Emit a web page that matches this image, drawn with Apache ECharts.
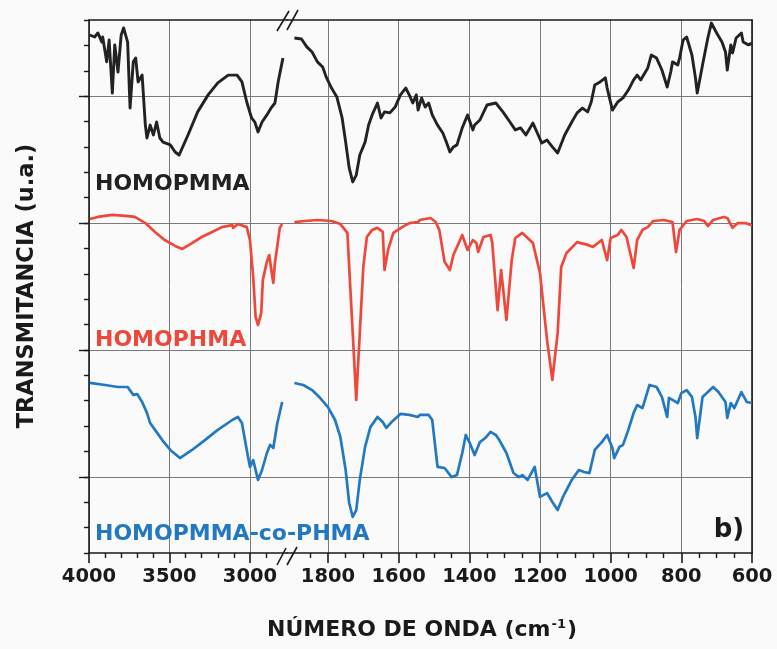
<!DOCTYPE html>
<html>
<head>
<meta charset="utf-8">
<script src="https://cdn.jsdelivr.net/npm/echarts@6/dist/echarts.min.js"></script>
<style>html,body{margin:0;padding:0;background:#fafafa;}#c{width:777px;height:649px;}</style>
</head>
<body>
<div id="c"></div>
<script>
// ---- DATA (wavenumber cm-1, transmittance in arbitrary stacked units) ----
const leftMajor = [3000, 3500, 4000];
const leftMinor = [2900, 3100, 3200, 3300, 3400, 3600, 3700, 3800, 3900];
const rightMajor = [600, 800, 1000, 1200, 1400, 1600, 1800];
const rightMinor = [650, 700, 750, 850, 900, 950, 1050, 1100, 1150, 1250, 1300, 1350, 1450, 1500, 1550, 1650, 1700, 1750, 1850];
const yMajor = [3, 8, 13, 18];

const pmmaLeft = [[3995,20.41],[3965,20.33],[3945,20.49],[3920,20.13],[3915,20.33],[3890,19.35],[3875,20.21],[3855,18.12],[3840,20.02],[3820,18.95],[3800,20.41],[3785,20.69],[3760,20.13],[3745,17.53],[3725,19.35],[3710,19.50],[3695,18.56],[3670,18.83],[3650,16.86],[3640,16.35],[3620,16.86],[3600,16.47],[3580,16.98],[3560,16.35],[3540,16.19],[3495,16.08],[3465,15.80],[3440,15.68],[3385,16.47],[3325,17.38],[3260,18.05],[3200,18.52],[3135,18.83],[3080,18.83],[3050,18.56],[3020,17.77],[2990,17.14],[2970,16.98],[2950,16.59],[2925,16.98],[2895,17.26],[2865,17.57],[2845,17.73],[2825,18.56],[2800,19.35],[2795,19.50]];
const pmmaRight = [[1895,20.29],[1875,20.25],[1860,19.94],[1845,19.74],[1830,19.35],[1815,19.15],[1805,18.75],[1790,18.32],[1775,17.97],[1760,17.14],[1750,16.19],[1740,15.17],[1730,14.62],[1720,14.89],[1710,15.68],[1695,16.19],[1685,16.86],[1675,17.26],[1660,17.73],[1650,17.14],[1640,17.38],[1625,17.34],[1610,17.57],[1595,18.05],[1580,18.32],[1570,18.05],[1560,17.73],[1550,18.05],[1545,17.45],[1535,17.93],[1525,17.57],[1515,17.73],[1505,17.26],[1490,16.86],[1475,16.55],[1465,16.19],[1455,15.80],[1445,16.00],[1435,16.08],[1420,16.75],[1405,17.26],[1390,16.67],[1385,16.86],[1370,17.06],[1350,17.65],[1325,17.73],[1305,17.38],[1285,16.98],[1270,16.67],[1255,16.75],[1240,16.47],[1220,16.94],[1205,16.47],[1195,16.15],[1180,16.27],[1165,16.00],[1150,15.76],[1130,16.47],[1110,16.98],[1095,17.34],[1080,17.53],[1065,17.38],[1055,17.77],[1045,18.44],[1030,18.56],[1015,18.72],[1010,18.32],[995,17.45],[980,17.77],[965,17.93],[950,18.24],[935,18.64],[925,18.83],[915,18.64],[895,19.11],[885,19.62],[870,19.50],[855,19.03],[840,18.36],[830,18.95],[825,19.35],[810,19.23],[805,19.50],[795,20.21],[785,20.33],[770,19.62],[760,18.72],[755,18.12],[740,19.23],[725,20.29],[715,20.88],[700,20.49],[685,20.13],[675,19.74],[670,19.03],[660,20.02],[655,19.70],[645,20.29],[630,20.49],[625,20.13],[610,20.02],[600,20.09]];

const phmaLeft = [[3995,13.16],[3945,13.24],[3855,13.32],[3775,13.28],[3715,13.24],[3650,13.00],[3590,12.65],[3530,12.33],[3465,12.10],[3420,11.98],[3360,12.21],[3300,12.45],[3235,12.65],[3175,12.84],[3110,12.92],[3105,12.81],[3075,12.96],[3020,12.84],[3000,12.33],[2980,10.87],[2965,9.30],[2950,8.98],[2930,9.46],[2920,10.76],[2895,11.47],[2880,11.74],[2870,11.27],[2855,10.64],[2845,11.43],[2825,12.33],[2815,12.81],[2800,12.96]];
const phmaRight = [[1895,13.04],[1865,13.08],[1830,13.12],[1790,13.08],[1765,12.96],[1745,12.61],[1740,11.27],[1730,8.67],[1720,6.03],[1710,8.67],[1700,11.27],[1690,12.45],[1675,12.73],[1660,12.81],[1645,12.65],[1640,11.15],[1630,11.94],[1615,12.61],[1590,12.84],[1570,13.00],[1545,13.04],[1540,13.12],[1510,13.20],[1495,13.04],[1485,12.73],[1470,11.47],[1455,11.15],[1445,11.74],[1430,12.21],[1420,12.53],[1405,11.94],[1390,12.33],[1380,12.21],[1375,11.86],[1360,12.45],[1340,12.53],[1335,12.21],[1320,9.57],[1310,11.15],[1305,11.15],[1295,9.18],[1280,11.54],[1270,12.41],[1250,12.61],[1235,12.41],[1220,12.21],[1200,11.03],[1180,8.39],[1165,6.82],[1150,8.67],[1140,11.27],[1125,11.82],[1095,12.25],[1065,12.14],[1050,12.06],[1025,12.33],[1010,11.54],[1000,12.41],[980,12.53],[970,12.73],[955,12.45],[935,11.23],[925,12.33],[910,12.73],[895,12.84],[880,13.08],[850,13.12],[825,13.04],[815,11.86],[805,12.73],[785,13.08],[755,13.16],[735,13.08],[725,12.88],[710,13.12],[680,13.24],[670,13.20],[655,12.81],[640,13.00],[620,13.00],[600,12.92]];

const copLeft = [[3995,6.70],[3900,6.62],[3820,6.54],[3760,6.54],[3725,6.23],[3700,6.26],[3670,5.95],[3640,5.52],[3620,5.12],[3590,4.85],[3545,4.45],[3495,4.06],[3435,3.74],[3360,4.06],[3280,4.45],[3200,4.85],[3110,5.24],[3075,5.36],[3050,5.12],[3020,4.06],[3000,3.39],[2980,3.66],[2950,2.88],[2925,3.27],[2895,3.94],[2875,4.26],[2855,4.14],[2830,5.12],[2800,5.95]];
const copRight = [[1895,6.70],[1870,6.62],[1845,6.42],[1825,6.15],[1800,5.75],[1780,5.24],[1765,4.57],[1750,3.27],[1740,1.97],[1730,1.42],[1720,1.69],[1710,2.88],[1695,4.18],[1680,4.96],[1660,5.36],[1645,5.16],[1635,4.93],[1620,5.16],[1595,5.48],[1570,5.44],[1545,5.36],[1540,5.44],[1515,5.44],[1505,5.24],[1490,3.39],[1470,3.35],[1450,2.99],[1435,3.07],[1420,3.94],[1410,4.65],[1400,4.37],[1385,3.86],[1370,4.37],[1355,4.53],[1340,4.77],[1325,4.65],[1315,4.45],[1295,3.94],[1275,3.15],[1260,2.99],[1250,3.07],[1235,2.88],[1215,3.39],[1200,2.21],[1180,2.36],[1165,2.01],[1150,1.69],[1135,2.21],[1110,2.88],[1090,3.27],[1075,3.19],[1060,3.15],[1045,4.06],[1025,4.37],[1010,4.65],[995,4.14],[990,3.74],[975,4.18],[965,4.26],[950,4.85],[935,5.52],[925,5.83],[910,5.71],[890,6.62],[870,6.54],[855,6.15],[840,5.36],[835,6.11],[825,6.03],[810,5.91],[800,6.30],[785,6.42],[770,6.15],[760,5.36],[755,4.53],[740,6.15],[725,6.34],[710,6.54],[695,6.34],[675,5.95],[670,5.32],[660,5.91],[650,5.71],[630,6.34],[615,5.95],[600,5.91]];

const seriesNames = ['HOMOPMMA', 'HOMOPHMA', 'HOMOPMMA-co-PHMA'];
const seriesColors = ['#222222', '#f0473b', '#2379c1'];

// ---- CHART ----
const chart = echarts.init(document.getElementById('c'), null, {renderer: 'canvas'});
const FONT = 'DejaVu Sans';
const axisCol = '#1a1a1a';
const gridCol = '#7a7a7a';
const leftRange = {min: 2770, max: 4000};
const rightRange = {min: 600, max: 1916};

function mainX(gi, rng, major) {
  return {
    gridIndex: gi, type: 'value', inverse: true, min: rng.min, max: rng.max, position: 'bottom',
    axisLine: {show: true, onZero: false, lineStyle: {color: axisCol, width: 1.6}},
    axisTick: {show: true, customValues: major, length: 10, lineStyle: {color: axisCol, width: 1.6}},
    axisLabel: {show: true, customValues: major, margin: 14, color: '#1a1a1a', fontFamily: FONT, fontWeight: 'bold', fontSize: 19.5,
                formatter: v => String(Math.round(v))},
    splitLine: {show: true, lineStyle: {color: gridCol, width: 1}}
  };
}
function minorX(gi, rng, minor) {
  return {
    gridIndex: gi, type: 'value', inverse: true, min: rng.min, max: rng.max, position: 'bottom',
    axisLine: {show: false},
    axisTick: {show: true, customValues: minor, length: 5, lineStyle: {color: axisCol, width: 1.4}},
    axisLabel: {show: false}, splitLine: {show: false}
  };
}
function topX(gi, rng) {
  return {
    gridIndex: gi, type: 'value', inverse: true, min: rng.min, max: rng.max, position: 'top',
    axisLine: {show: true, onZero: false, lineStyle: {color: axisCol, width: 1.6}},
    axisTick: {show: false}, axisLabel: {show: false}, splitLine: {show: false}
  };
}

const option = {
  backgroundColor: '#fafafa',
  animation: false,
  grid: [
    {left: 89, top: 20, width: 198, bottom: 96},
    {left: 287, top: 20, right: 25, bottom: 96}
  ],
  xAxis: [
    mainX(0, leftRange, leftMajor), minorX(0, leftRange, leftMinor), topX(0, leftRange),
    mainX(1, rightRange, rightMajor), minorX(1, rightRange, rightMinor), topX(1, rightRange)
  ],
  yAxis: [
    {gridIndex: 0, type: 'value', min: 0, max: 21, interval: 1, position: 'left',
     axisLine: {show: true, lineStyle: {color: axisCol, width: 1.6}},
     axisTick: {show: true, length: 5, lineStyle: {color: axisCol, width: 1.4}},
     axisLabel: {show: false}, splitLine: {show: false}},
    {gridIndex: 0, type: 'value', min: 0, max: 21, position: 'left',
     axisLine: {show: false},
     axisTick: {show: true, customValues: yMajor, length: 10, lineStyle: {color: axisCol, width: 1.4}},
     axisLabel: {show: false}, splitLine: {show: true, lineStyle: {color: gridCol, width: 1}}},
    {gridIndex: 1, type: 'value', min: 0, max: 21, position: 'right',
     axisLine: {show: true, lineStyle: {color: axisCol, width: 1.6}},
     axisTick: {show: false, customValues: yMajor},
     axisLabel: {show: false}, splitLine: {show: true, lineStyle: {color: gridCol, width: 1}}}
  ],
  series: [
    {name: seriesNames[0], data: pmmaLeft, xAxisIndex: 0, yAxisIndex: 0, c: 0},
    {name: seriesNames[0], data: pmmaRight, xAxisIndex: 3, yAxisIndex: 2, c: 0},
    {name: seriesNames[1], data: phmaLeft, xAxisIndex: 0, yAxisIndex: 0, c: 1},
    {name: seriesNames[1], data: phmaRight, xAxisIndex: 3, yAxisIndex: 2, c: 1},
    {name: seriesNames[2], data: copLeft, xAxisIndex: 0, yAxisIndex: 0, c: 2},
    {name: seriesNames[2], data: copRight, xAxisIndex: 3, yAxisIndex: 2, c: 2}
  ].map(s => ({
    type: 'line', name: s.name, data: s.data, xAxisIndex: s.xAxisIndex, yAxisIndex: s.yAxisIndex,
    showSymbol: false, symbol: 'none', smooth: false, clip: false,
    lineStyle: {color: seriesColors[s.c], width: s.c === 0 ? 2.9 : 2.7, join: 'round'}, z: 5
  })),
  graphic: [
    // break marks
    {type: 'line', shape: {x1: 277, y1: 565, x2: 286, y2: 548}, style: {stroke: axisCol, lineWidth: 1.6}, z: 10},
    {type: 'line', shape: {x1: 287, y1: 565, x2: 297, y2: 547}, style: {stroke: axisCol, lineWidth: 1.6}, z: 10},
    {type: 'line', shape: {x1: 277, y1: 31, x2: 289, y2: 11}, style: {stroke: axisCol, lineWidth: 1.6}, z: 10},
    {type: 'line', shape: {x1: 287, y1: 30, x2: 298, y2: 10}, style: {stroke: axisCol, lineWidth: 1.6}, z: 10},
    // series labels
    {type: 'text', x: 95, y: 184, style: {text: seriesNames[0], fill: seriesColors[0], font: 'bold 22px "DejaVu Sans"', textVerticalAlign: 'middle'}, z: 10},
    {type: 'text', x: 95, y: 340, style: {text: seriesNames[1], fill: seriesColors[1], font: 'bold 22px "DejaVu Sans"', textVerticalAlign: 'middle'}, z: 10},
    {type: 'text', x: 95, y: 534, style: {text: seriesNames[2], fill: seriesColors[2], font: 'bold 22px "DejaVu Sans"', textVerticalAlign: 'middle'}, z: 10},
    {type: 'text', x: 729, y: 530, style: {text: 'b)', fill: '#1a1a1a', font: 'bold 26px "DejaVu Sans"', textAlign: 'center', textVerticalAlign: 'middle'}, z: 10},
    // axis titles
    {type: 'text', x: 27, y: 286, rotation: Math.PI / 2,
     style: {text: 'TRANSMITANCIA (u.a.)', fill: '#1a1a1a', font: 'bold 22.5px "DejaVu Sans"', textAlign: 'center', textVerticalAlign: 'middle'}, z: 10},
    {type: 'text', x: 422, y: 630,
     style: {text: '{a|NÚMERO DE ONDA (cm}{s|-1}{a|)}', textAlign: 'center', textVerticalAlign: 'middle',
       rich: {a: {fontFamily: FONT, fontWeight: 'bold', fontSize: 22, fill: '#1a1a1a', color: '#1a1a1a'},
              s: {fontFamily: FONT, fontWeight: 'bold', fontSize: 13, fill: '#1a1a1a', color: '#1a1a1a', verticalAlign: 'top', padding: [0, 1, 10, 1]}}}, z: 10}
  ]
};
chart.setOption(option);
</script>
</body>
</html>
